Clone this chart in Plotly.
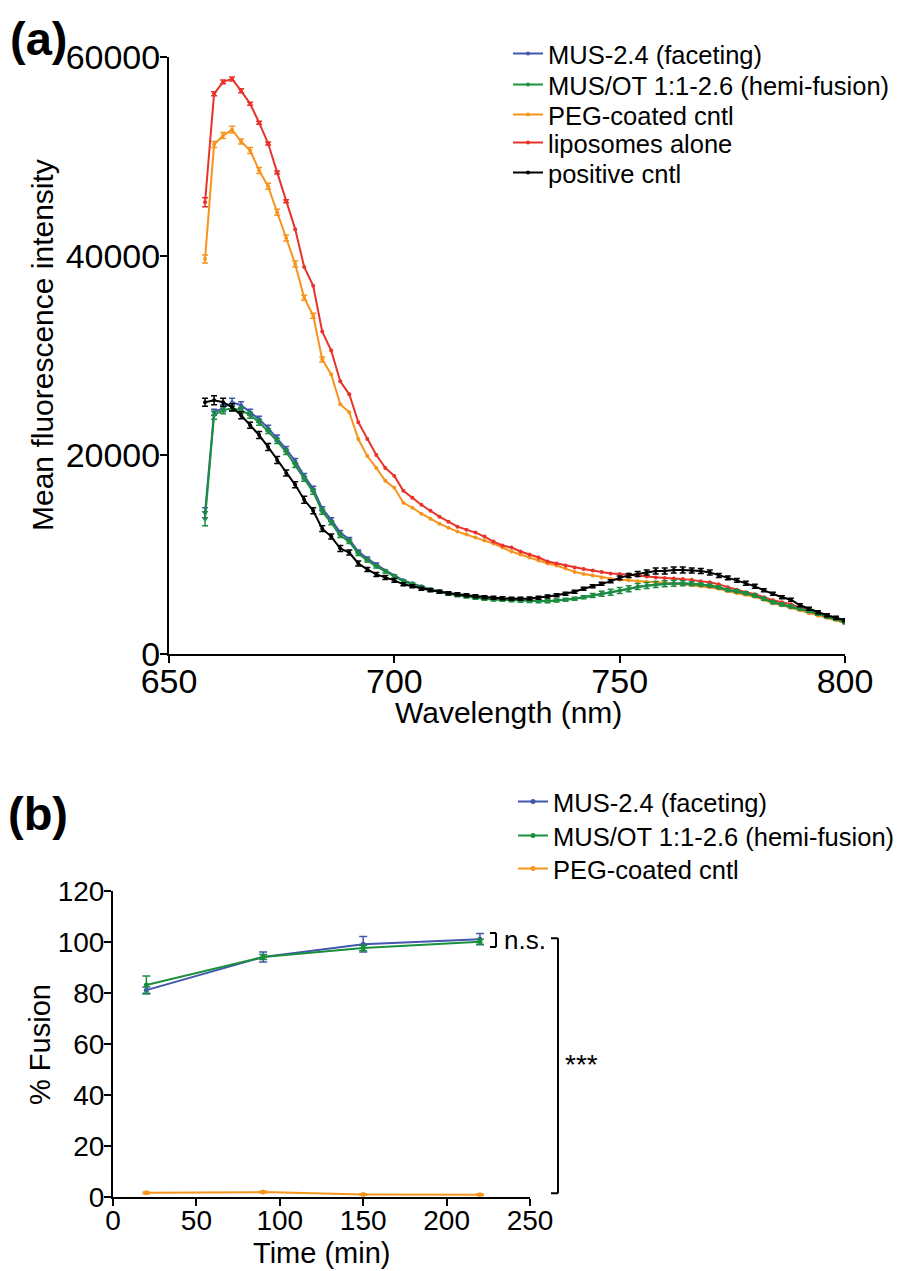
import plotly.graph_objects as go

W, H = 897, 1271
FONT = "Liberation Sans, Arial, Helvetica, sans-serif"

# ---------------- Panel (a) data ----------------
wavelength = [658, 660, 662, 664, 666, 668, 670, 672, 674, 676,
              678, 680, 682, 684, 686, 688, 690, 692, 694, 696,
              698, 700, 702, 704, 706, 708, 710, 712, 714, 716,
              718, 720, 722, 724, 726, 728, 730, 732, 734, 736,
              738, 740, 742, 744, 746, 748, 750, 752, 754, 756,
              758, 760, 762, 764, 766, 768, 770, 772, 774, 776,
              778, 780, 782, 784, 786, 788, 790, 792, 794, 796,
              798, 800]

mus24 = [14200, 24300, 24700, 25300, 25000, 24300, 23600, 22700, 21700, 20600,
         19400, 17900, 16600, 14600, 13500, 12200, 11500, 10300, 9600, 9000,
         8400, 7900, 7400, 7100, 6800, 6500, 6280, 6080, 5920, 5790,
         5660, 5560, 5490, 5450, 5400, 5360, 5320, 5310, 5310, 5370,
         5440, 5540, 5700, 5860, 6030, 6190, 6360, 6530, 6750, 6860,
         6970, 7030, 7100, 7100, 7040, 6980, 6870, 6700, 6440, 6300,
         6100, 5870, 5540, 5200, 4970, 4770, 4530, 4300, 4030, 3760,
         3530, 3200]
mus24_err = [500, 300, 350, 400, 350, 300, 300, 300, 300, 250,
             250, 250, 250, 200, 200, 200, 200, 150, 150, 150]

musot = [13600, 24000, 24500, 24700, 24500, 24000, 23300, 22400, 21400, 20300,
         19000, 17600, 16300, 14300, 13200, 11900, 11300, 10100, 9400, 8800,
         8300, 7800, 7300, 7000, 6700, 6450, 6250, 6050, 5900, 5780,
         5650, 5550, 5480, 5450, 5400, 5360, 5320, 5310, 5310, 5380,
         5450, 5550, 5710, 5880, 6050, 6210, 6380, 6550, 6780, 6880,
         6990, 7050, 7120, 7120, 7050, 6990, 6880, 6710, 6440, 6310,
         6110, 5880, 5550, 5210, 4980, 4780, 4540, 4310, 4040, 3770,
         3540, 3200]
musot_err = [700, 400, 350, 300, 300, 300, 300, 250, 250, 250,
             250, 250, 250, 250, 200, 200, 200, 200, 150, 150,
             150, 150, 150, 150, 150, 150, 150, 150, 150, 150,
             150, 150, 150, 150, 150, 150, 150, 150, 150, 150,
             150, 150, 150, 200, 250, 300, 300, 300, 300, 300,
             300, 300, 300, 250, 200, 150, 150, 150, 150, 150,
             150, 150, 150, 150, 150, 150, 150, 150, 150, 150,
             150, 150]

peg = [39700, 51200, 52100, 52700, 51500, 50600, 48600, 47000, 44400, 41800,
       39200, 35800, 34000, 29600, 28100, 25100, 24300, 21600, 19900, 18700,
       17400, 16700, 15200, 14700, 14100, 13600, 13100, 12700, 12300, 12000,
       11700, 11400, 11100, 10700, 10300, 10000, 9700, 9400, 9100, 8900,
       8600, 8250, 8050, 7900, 7700, 7550, 7450, 7400, 7300, 7250,
       7200, 7150, 7050, 7000, 6900, 6800, 6700, 6550, 6300, 6100,
       5950, 5750, 5450, 5100, 4900, 4650, 4400, 4100, 3850, 3650,
       3400, 3100]
peg_err = [400, 300, 300, 350, 250, 300, 300, 300, 300, 300,
           300, 250, 250, 250]

lipo = [45400, 56300, 57500, 57800, 56600, 55300, 53400, 51300, 48400, 45500,
        42700, 38900, 37000, 32400, 30500, 27400, 26100, 23300, 21600, 20000,
        18700, 17900, 16400, 15700, 15000, 14400, 13800, 13300, 12800, 12500,
        12200, 11800, 11300, 10900, 10700, 10300, 10000, 9700, 9300, 9100,
        8900, 8700, 8550, 8400, 8250, 8100, 8050, 8000, 7900, 7800,
        7700, 7650, 7600, 7550, 7450, 7300, 7200, 7000, 6700, 6450,
        6200, 6000, 5700, 5400, 5200, 5000, 4650, 4400, 4100, 3850,
        3550, 3300]
lipo_err = [450, 200, 200, 200, 200, 150, 150, 150, 150, 150]

poscntl = [25300, 25500, 25300, 24800, 24000, 23000, 22000, 20800, 19500, 18200,
           17000, 15500, 14400, 12600, 11800, 10600, 10200, 9100, 8500, 8000,
           7700, 7400, 7000, 6800, 6550, 6400, 6250, 6100, 6000, 5900,
           5800, 5700, 5650, 5600, 5550, 5550, 5580, 5650, 5780, 5900,
           6050, 6250, 6550, 6800, 7050, 7300, 7650, 7900, 8050, 8200,
           8350, 8350, 8450, 8450, 8400, 8350, 8200, 7900, 7650, 7400,
           7100, 6800, 6400, 6050, 5700, 5450, 4900, 4550, 4200, 3900,
           3650, 3400]
poscntl_err = [400, 450, 400, 350, 350, 300, 350, 350, 350, 300,
               300, 350, 300, 300, 250, 300, 250, 250, 200, 200,
               200, 200, 150, 150, 150, 150, 150, 150, 150, 150,
               150, 150, 150, 150, 150, 150, 150, 150, 150, 150,
               150, 150, 150, 150, 150, 150, 200, 200, 250, 250,
               300, 300, 300, 300, 250, 250, 250, 200, 200, 200,
               200, 200, 150, 150, 150, 150, 150, 150, 150, 150,
               150, 150]

a_xticks = [650, 700, 750, 800]
a_yticks = [0, 20000, 40000, 60000]

# ---------------- Panel (b) data ----------------
time_min = [20, 90, 150, 220]
fus_mus24 = [81, 94, 99, 101]
fus_mus24_err = [1.2, 2.0, 3.0, 2.2]
fus_musot = [83, 94, 97.5, 100]
fus_musot_err = [3.5, 1.0, 1.0, 1.0]
fus_peg = [1.5, 1.8, 0.9, 0.8]
fus_peg_err = [0.3, 0.3, 0.3, 0.3]

b_xticks = [0, 50, 100, 150, 200, 250]
b_yticks = [0, 20, 40, 60, 80, 100, 120]

BLUE = "#4257ad"
GREEN = "#1a8f3c"
ORANGE = "#f7941d"
RED = "#e8332a"
BLACK = "#000000"


def px(v):
    return v / W


def py(v):
    return 1 - v / H


fig = go.Figure()


def add_a(name, y, err, color, leg):
    fig.add_trace(go.Scatter(
        x=wavelength, y=y, name=name, mode="lines+markers",
        line=dict(color=color, width=2),
        marker=dict(color=color, size=4),
        error_y=dict(type="data", array=err, color=color, thickness=1.5, width=3),
        xaxis="x", yaxis="y", legend=leg,
    ))


add_a("PEG-coated cntl", peg, peg_err, ORANGE, "legend3")
add_a("liposomes alone", lipo, lipo_err, RED, "legend4")
add_a("MUS-2.4 (faceting)", mus24, mus24_err, BLUE, "legend")
add_a("MUS/OT 1:1-2.6 (hemi-fusion)", musot, musot_err, GREEN, "legend2")
add_a("positive cntl", poscntl, poscntl_err, BLACK, "legend5")


def add_b(name, y, err, color, leg):
    fig.add_trace(go.Scatter(
        x=time_min, y=y, name=name, mode="lines+markers",
        line=dict(color=color, width=2),
        marker=dict(color=color, size=5),
        error_y=dict(type="data", array=err, color=color, thickness=1.5, width=4),
        xaxis="x2", yaxis="y2", legend=leg,
    ))


add_b("MUS-2.4 (faceting)", fus_mus24, fus_mus24_err, BLUE, "legend6")
add_b("MUS/OT 1:1-2.6 (hemi-fusion)", fus_musot, fus_musot_err, GREEN, "legend7")
add_b("PEG-coated cntl", fus_peg, fus_peg_err, ORANGE, "legend8")


def axis(size, standoff, **kw):
    d = dict(
        showline=True, linecolor="black", linewidth=2,
        ticks="outside", ticklen=7, tickwidth=2, tickcolor="black",
        showgrid=False, zeroline=False, mirror=False, automargin=False,
        tickformat="d", ticklabelstandoff=standoff,
        tickfont=dict(family=FONT, size=size, color="black"),
    )
    d.update(kw)
    return d


def leg(xp, yp):
    return dict(x=px(xp), y=py(yp), xanchor="left", yanchor="middle",
                font=dict(family=FONT, size=25.5, color="black"),
                bgcolor="rgba(0,0,0,0)", borderwidth=0, itemwidth=30)


fig.update_layout(
    template="none",
    width=W, height=H,
    margin=dict(l=0, r=0, t=0, b=0, autoexpand=False),
    paper_bgcolor="white", plot_bgcolor="white",
    font=dict(family=FONT, color="black"),
    showlegend=True,
    xaxis=axis(34, -11, domain=[px(169), px(845)], anchor="y", range=[650, 800],
               tickvals=a_xticks),
    yaxis=axis(34, -7, domain=[py(654), py(57)], anchor="x", range=[0, 60000],
               tickvals=a_yticks),
    xaxis2=axis(28, -9, domain=[px(113), px(530)], anchor="y2", range=[0, 250],
                tickvals=b_xticks),
    yaxis2=axis(28, -6, domain=[py(1196.7), py(890.7)], anchor="x2", range=[0, 120],
                tickvals=b_yticks),
    legend=leg(508, 54),
    legend2=leg(508, 85),
    legend3=leg(508, 115),
    legend4=leg(508, 143),
    legend5=leg(508, 173),
    legend6=leg(513, 802),
    legend7=leg(513, 836),
    legend8=leg(513, 869),
)


def text(t, x, y, size, angle=0, bold=False):
    fig.add_annotation(text=f"<b>{t}</b>" if bold else t, x=px(x), y=py(y),
                       xref="paper", yref="paper", xanchor="center", yanchor="middle",
                       showarrow=False, textangle=angle,
                       font=dict(family=FONT, size=size, color="black"))


# axis titles
text("Wavelength (nm)", 508, 712, 30)
text("Mean fluorescence intensity", 42, 345, 30, angle=-90)
text("Time (min)", 321, 1253, 29)
text("% Fusion", 40, 1045, 29, angle=-90)

# panel labels
text("(a)", 38, 39, 47, bold=True)
text("(b)", 38, 814, 47, bold=True)

# significance brackets (panel b)
br = dict(color="black", width=2)
fig.add_shape(type="line", xref="paper", yref="y2", x0=px(496), x1=px(496), y0=97.9, y1=103.4, line=br)
fig.add_shape(type="line", xref="paper", yref="y2", x0=px(490), x1=px(496), y0=103.4, y1=103.4, line=br)
fig.add_shape(type="line", xref="paper", yref="y2", x0=px(490), x1=px(496), y0=97.9, y1=97.9, line=br)
fig.add_annotation(text="n.s.", xref="paper", yref="y2", x=px(502), y=100.8,
                   xanchor="left", yanchor="middle", showarrow=False,
                   font=dict(family=FONT, size=26, color="black"))
fig.add_shape(type="line", xref="paper", yref="y2", x0=px(558), x1=px(558), y0=1.4, y1=101.4, line=br)
fig.add_shape(type="line", xref="paper", yref="y2", x0=px(551), x1=px(558), y0=101.4, y1=101.4, line=br)
fig.add_shape(type="line", xref="paper", yref="y2", x0=px(551), x1=px(558), y0=1.4, y1=1.4, line=br)
fig.add_annotation(text="***", xref="paper", yref="y2", x=px(563), y=52,
                   xanchor="left", yanchor="middle", showarrow=False,
                   font=dict(family=FONT, size=28, color="black"))

fig.write_html("out.html",
               config={"displayModeBar": False},
               post_script="document.body.style.margin='0';document.body.style.overflow='hidden';")
